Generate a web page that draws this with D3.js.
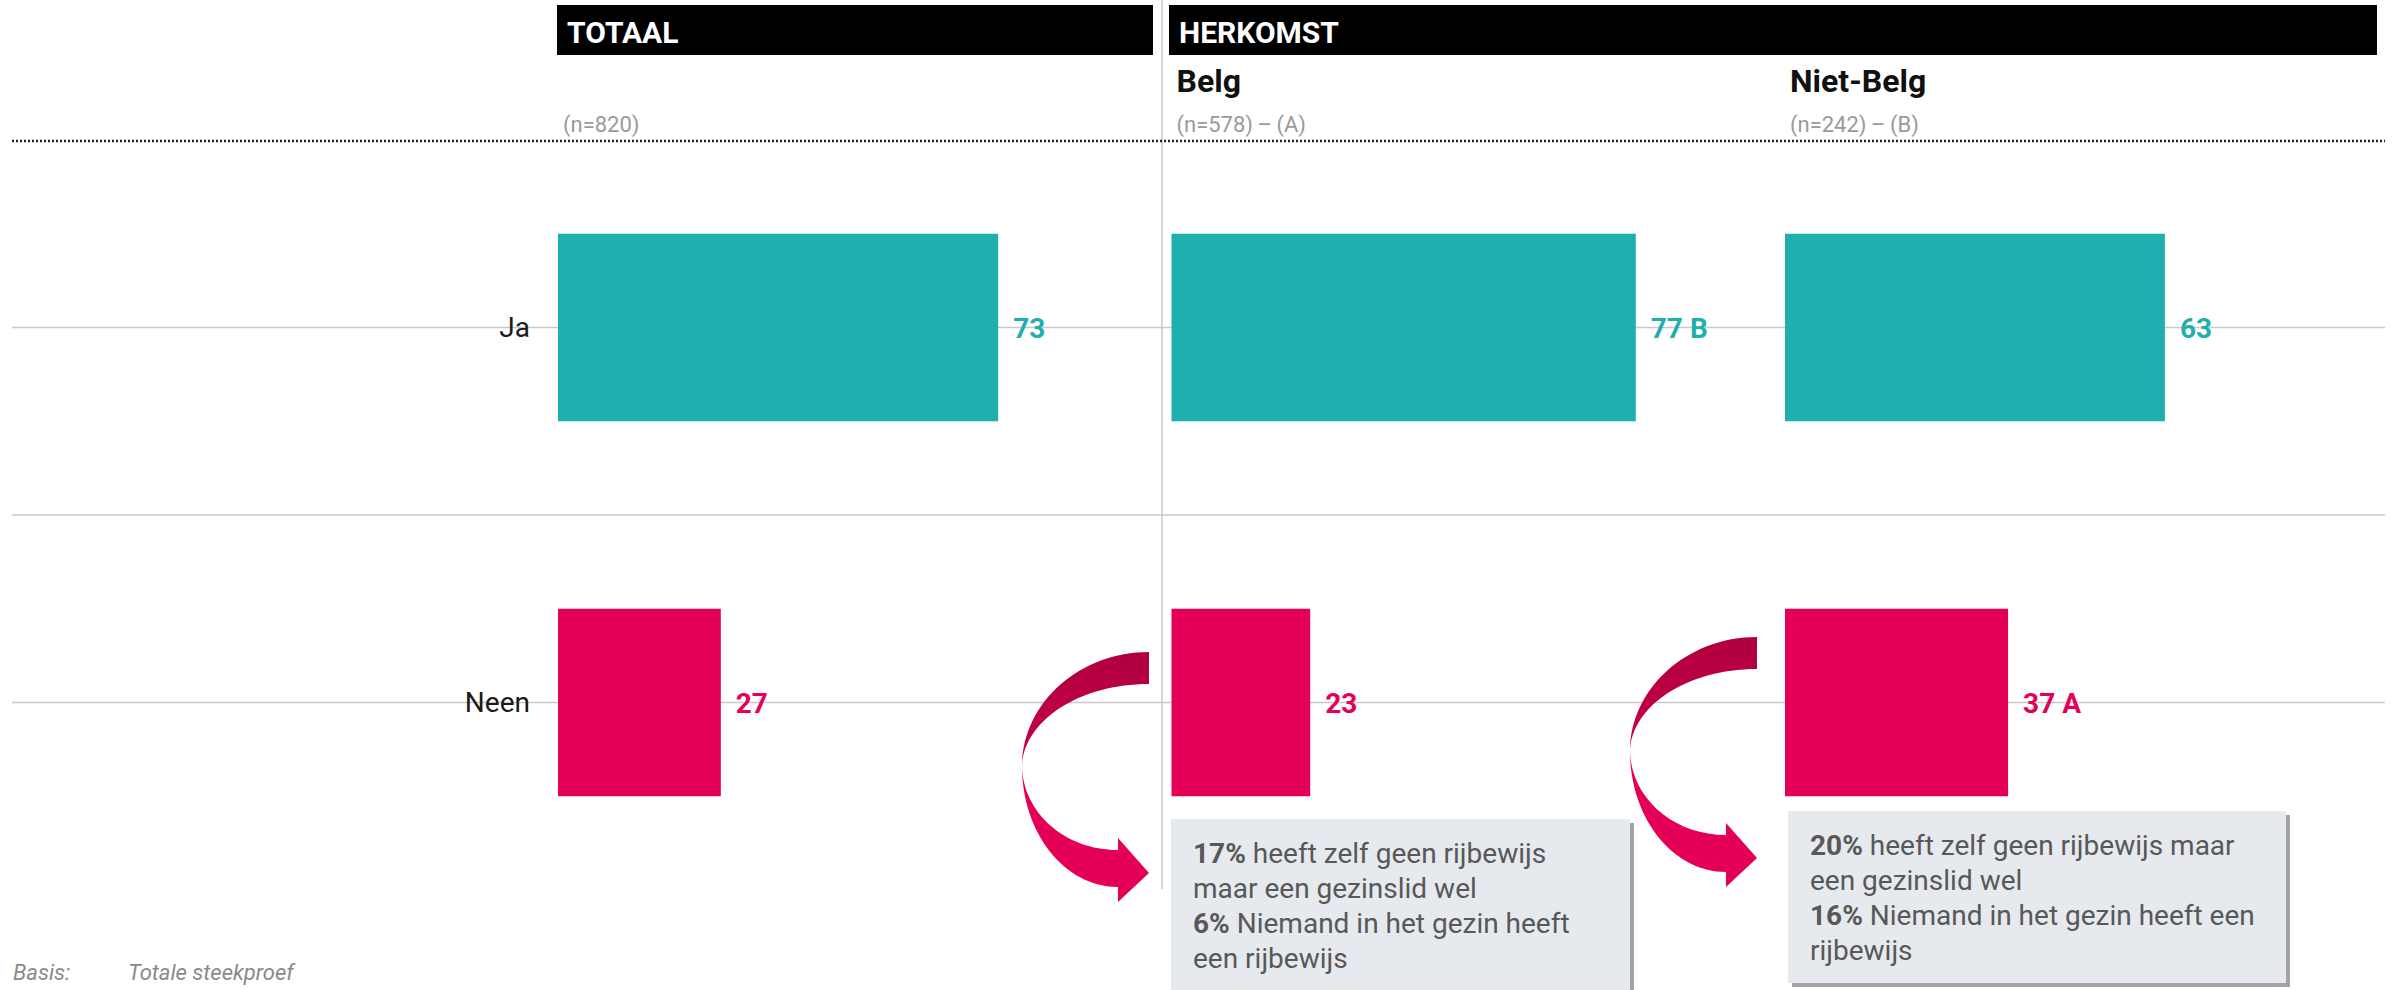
<!DOCTYPE html>
<html>
<head>
<meta charset="utf-8">
<script src="https://cdn.jsdelivr.net/npm/d3@7/dist/d3.min.js"></script>
<style>
  html, body { margin: 0; padding: 0; background: #fff; }
  svg { display: block; font-family: Roboto, "Noto Sans", sans-serif; }
</style>
</head>
<body>
<svg id="chart" width="2400" height="990"></svg>
<script>
// ---------- data ----------
const categories = ["Ja", "Neen"];
const groups = ["Totaal", "Belg", "Niet-Belg"];
const groupTitles = ["", "Belg", "Niet-Belg"];
const groupN = ["(n=820)", "(n=578)\u2009\u2013\u2009(A)", "(n=242)\u2009\u2013\u2009(B)"];
const valuesJa = [73, 77, 63];
const valuesNeen = [27, 23, 37];
const sigJa = ["", "B", ""];
const sigNeen = ["", "", "A"];
const headerLabels = ["TOTAAL", "HERKOMST"];
const noteBelg = [
  [["17%", true], [" heeft zelf geen rijbewijs", false]],
  [["maar een gezinslid wel", false]],
  [["6%", true], [" Niemand in het gezin heeft", false]],
  [["een rijbewijs", false]]
];
const noteNietBelg = [
  [["20%", true], [" heeft zelf geen rijbewijs maar", false]],
  [["een gezinslid wel", false]],
  [["16%", true], [" Niemand in het gezin heeft een", false]],
  [["rijbewijs", false]]
];
const footerLabel = "Basis:";
const footerText = "Totale steekproef";

// ---------- styles ----------
const teal = "#1eafae";
const pink = "#e40056";
const gridColor = "#c9c9c9";

const svg = d3.select("#chart");

// scales
const col = d3.scaleBand().domain(groups).range([558, 558 + 3 * 613.5]).paddingInner(0).paddingOuter(0);
const y = d3.scaleBand().domain(categories).range([140, 890]).paddingInner(0.5).paddingOuter(0.25);
const xFor = g => d3.scaleLinear().domain([0, 100]).range([col(g), col(g) + 603]);

// ---------- grid lines ----------
const gl = svg.append("g");
categories.forEach(c => {
  gl.append("line").attr("x1", 12).attr("x2", 2385)
    .attr("y1", y(c) + y.bandwidth() / 2).attr("y2", y(c) + y.bandwidth() / 2)
    .attr("stroke", gridColor).attr("stroke-width", 1.5);
});
// separator between rows
gl.append("line").attr("x1", 12).attr("x2", 2385)
  .attr("y1", (y("Ja") + y.bandwidth() + y("Neen")) / 2).attr("y2", (y("Ja") + y.bandwidth() + y("Neen")) / 2)
  .attr("stroke", gridColor).attr("stroke-width", 1.5);
// vertical divider
gl.append("line").attr("x1", 1162).attr("x2", 1162).attr("y1", 0).attr("y2", 889)
  .attr("stroke", gridColor).attr("stroke-width", 1.5);
// dotted header rule
gl.append("line").attr("x1", 12).attr("x2", 2385).attr("y1", 141).attr("y2", 141)
  .attr("stroke", "#222").attr("stroke-width", 2.5).attr("stroke-dasharray", "2,2");

// ---------- headers ----------
const hdr = svg.append("g");
const hdrBoxes = [[557, 1153], [1169, 2377]];
headerLabels.forEach((t, i) => {
  hdr.append("rect").attr("x", hdrBoxes[i][0]).attr("y", 5)
    .attr("width", hdrBoxes[i][1] - hdrBoxes[i][0]).attr("height", 50).attr("fill", "#000");
  hdr.append("text").attr("x", hdrBoxes[i][0] + 10).attr("y", 43)
    .attr("fill", "#fff").attr("font-size", 30).attr("font-weight", 700).text(t);
});
groups.forEach((g, i) => {
  if (groupTitles[i]) {
    hdr.append("text").attr("x", col(g) + 5).attr("y", 92)
      .attr("fill", "#111").attr("font-size", 32).attr("font-weight", 700).text(groupTitles[i]);
  }
  hdr.append("text").attr("x", col(g) + 5).attr("y", 132)
    .attr("fill", "#9a9a9a").attr("font-size", 22).text(groupN[i]);
});

// ---------- category labels ----------
svg.append("g").selectAll("text").data(categories).join("text")
  .attr("x", 530).attr("y", d => y(d) + y.bandwidth() / 2).attr("dy", "0.35em")
  .attr("text-anchor", "end").attr("font-size", 28).attr("fill", "#1a1a1a").text(d => d);

// ---------- bars ----------
const series = [
  { cat: "Ja", values: valuesJa, sig: sigJa, color: teal },
  { cat: "Neen", values: valuesNeen, sig: sigNeen, color: pink }
];
const bars = svg.append("g");
series.forEach(s => {
  groups.forEach((g, i) => {
    const x = xFor(g);
    bars.append("rect").attr("x", x(0)).attr("y", y(s.cat))
      .attr("width", x(s.values[i]) - x(0)).attr("height", y.bandwidth())
      .attr("fill", s.color);
    bars.append("text").attr("x", x(s.values[i]) + 15)
      .attr("y", y(s.cat) + y.bandwidth() / 2).attr("dy", "0.36em")
      .attr("font-size", 28).attr("font-weight", 700).attr("fill", s.color)
      .text(s.values[i] + (s.sig[i] ? " " + s.sig[i] : ""));
  });
});

// ---------- curved arrows ----------
const defs = svg.append("defs");
const grad = defs.append("linearGradient").attr("id", "arrowTop")
  .attr("x1", 0).attr("y1", 0).attr("x2", 0).attr("y2", 1);
grad.append("stop").attr("offset", "0%").attr("stop-color", "#b0003f");
grad.append("stop").attr("offset", "100%").attr("stop-color", "#c8004b");

function drawArrow(ax, ay) {
  const k = 0.5523;
  const xr = ax, yTop = ay, t1 = 32;
  const xl = xr - 127, yMid = yTop + 115;
  const xh = xr - 31, yInner = yMid + 83, yOuter = yMid + 120;
  const headTop = yMid + 71, headBot = yMid + 135, tipY = yMid + 106;
  const rx1 = xr - xl, ry1 = yMid - yTop, ry2 = yMid - yTop - t1;
  const rx3 = xh - xl, ry3 = yOuter - yMid, ry4 = yInner - yMid;
  const g = svg.append("g");
  const p1 = d3.path();
  p1.moveTo(xr, yTop);
  p1.bezierCurveTo(xr - k * rx1, yTop, xl, yMid - k * ry1, xl, yMid);
  p1.bezierCurveTo(xl + 1, yMid - k * ry2, xr - k * rx1, yTop + t1, xr, yTop + t1);
  p1.closePath();
  g.append("path").attr("d", p1.toString()).attr("fill", "url(#arrowTop)");
  const p2 = d3.path();
  p2.moveTo(xl, yMid - 1);
  p2.bezierCurveTo(xl, yMid + k * ry3, xh - k * rx3, yOuter, xh, yOuter);
  p2.lineTo(xh, headBot);
  p2.lineTo(xr, tipY);
  p2.lineTo(xh, headTop);
  p2.lineTo(xh, yInner);
  p2.bezierCurveTo(xh - k * rx3, yInner, xl + 1, yMid + k * ry4, xl, yMid - 1);
  p2.closePath();
  g.append("path").attr("d", p2.toString()).attr("fill", pink);
}
drawArrow(1149, 652);
drawArrow(1757, 637);

// ---------- annotation boxes ----------
function drawNote(bx, by, bw, bh, lines) {
  const g = svg.append("g");
  g.append("rect").attr("x", bx + 4).attr("y", by + 4).attr("width", bw).attr("height", bh).attr("fill", "#a3a3a3");
  g.append("rect").attr("x", bx).attr("y", by).attr("width", bw).attr("height", bh).attr("fill", "#e6e9ee");
  lines.forEach((parts, i) => {
    const t = g.append("text").attr("x", bx + 22).attr("y", by + 44 + i * 35)
      .attr("font-size", 28).attr("fill", "#585858");
    parts.forEach(([s, b]) => {
      t.append("tspan").attr("font-weight", b ? 700 : 400).text(s);
    });
  });
}
drawNote(1171, 819, 459, 172, noteBelg);
drawNote(1788, 811, 498, 172, noteNietBelg);

// ---------- footer ----------
svg.append("text").attr("x", 13).attr("y", 980).attr("font-size", 22)
  .attr("font-style", "italic").attr("fill", "#8a8a8a").text(footerLabel);
svg.append("text").attr("x", 128).attr("y", 980).attr("font-size", 22)
  .attr("font-style", "italic").attr("fill", "#8a8a8a").text(footerText);
</script>
</body>
</html>
